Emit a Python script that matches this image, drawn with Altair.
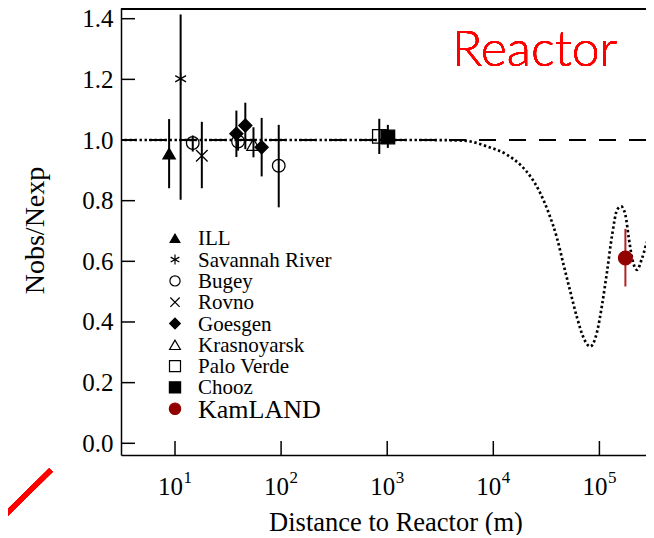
import altair as alt
import pandas as pd

# ---------------- data ----------------
exp_names = ["ILL", "Savannah River", "Bugey", "Rovno", "Goesgen", "Bugey",
             "Goesgen", "Krasnoyarsk", "Goesgen", "Bugey", "Palo Verde",
             "Chooz", "KamLAND"]
exp_dist = [8.8, 11.3, 14.7, 17.9, 37.9, 39.3, 46.0, 54.9, 65.6, 95.0,
            842.0, 1014.0, 175800.0]
exp_ratio = [0.955, 1.202, 0.990, 0.948, 1.021, 0.995, 1.048, 0.985, 0.976,
             0.915, 1.012, 1.010, 0.611]
exp_lo = [0.841, 0.803, 0.962, 0.841, 0.944, 0.965, 0.970, 0.943, 0.880,
          0.778, 0.954, 0.974, 0.517]
exp_hi = [1.069, 1.414, 1.015, 1.060, 1.097, 1.025, 1.123, 1.042, 1.073,
          1.050, 1.070, 1.050, 0.707]

curve_dist = [3.0, 10.0, 100.0, 1000.0, 2500.0, 5250.0, 8700.0, 13500.0,
              18000.0, 22400.0, 27700.0, 33300.0, 39800.0, 46000.0, 53200.0,
              61700.0, 71100.0, 77600.0, 82200.0, 87100.0, 95100.0, 105900.0,
              118000.0, 131800.0, 146900.0, 160300.0, 175800.0, 189200.0,
              203200.0, 226500.0, 252900.0, 291700.0, 321400.0, 360000.0]
curve_ratio = [1.0, 1.0, 1.0, 1.0, 1.0, 0.998, 0.979, 0.951, 0.918, 0.880,
               0.825, 0.759, 0.677, 0.588, 0.500, 0.413, 0.347, 0.324, 0.319,
               0.328, 0.368, 0.456, 0.566, 0.687, 0.770, 0.781, 0.753, 0.677,
               0.611, 0.572, 0.611, 0.671, 0.649, 0.600]

legend_names = ["ILL", "Savannah River", "Bugey", "Rovno", "Goesgen",
                "Krasnoyarsk", "Palo Verde", "Chooz", "KamLAND"]

y_ticks = [0.0, 0.2, 0.4, 0.6, 0.8, 1.0, 1.2, 1.4]
x_decades = [10, 100, 1000, 10000, 100000]
x_exponents = ["1", "2", "3", "4", "5"]

# ---------------- styles ----------------
W, H = 525, 447
FONT = "Liberation Serif"
DARKRED = "#930000"
ASTERISK = "M0,-1L0,1M-0.87,-0.5L0.87,0.5M-0.87,0.5L0.87,-0.5"
XMARK = "M-0.9,-0.9L0.9,0.9M-0.9,0.9L0.9,-0.9"
shape_range = ["triangle-up", ASTERISK, "circle", XMARK, "diamond",
               "triangle-up", "square", "square", "circle"]
fill_range = ["black", "transparent", "transparent", "transparent", "black",
              "transparent", "transparent", "black", DARKRED]
stroke_range = ["black"] * 8 + [DARKRED]
err_range = ["black"] * 8 + ["#b02424"]
size_range = [150, 190, 140, 140, 165, 130, 100, 144, 361]
leg_size_range = [95, 130, 80, 80, 95, 80, 70, 80, 200]

shape_sc = alt.Scale(domain=legend_names, range=shape_range)
fill_sc = alt.Scale(domain=legend_names, range=fill_range)
stroke_sc = alt.Scale(domain=legend_names, range=stroke_range)

xsc = alt.Scale(type="log", domain=[3.098, 274900], nice=False)
ysc = alt.Scale(domain=[-0.0386, 1.4353], nice=False, zero=False)

exp_df = pd.DataFrame({"name": exp_names, "dist": exp_dist, "ratio": exp_ratio,
                       "lo": exp_lo, "hi": exp_hi})
curve_df = pd.DataFrame({"dist": curve_dist, "ratio": curve_ratio})
leg_df = pd.DataFrame({"name": legend_names, "idx": list(range(len(legend_names)))})
ytick_df = pd.DataFrame({"v": y_ticks})
xtick_df = pd.DataFrame({"d": x_decades, "e": x_exponents})

axis_style = dict(labelFont=FONT, titleFont=FONT, labelFontSize=25,
                  titleFontWeight="normal", labelColor="black", titleColor="black",
                  domainColor="black", domainWidth=1.5, grid=False, ticks=False,
                  tickSize=0)

x_axis = alt.Axis(values=x_decades, labelExpr="'10'", labelOffset=-5,
                  labelBaseline="alphabetic", labelPadding=39,
                  title="Distance to Reactor (m)", titleFontSize=26.5,
                  titleX=274.5, titleY=75,
                  titleAlign="center", titleBaseline="alphabetic", **axis_style)
y_axis = alt.Axis(values=y_ticks, format=".1f", labelPadding=8,
                  title="Nobs/Nexp", titleFontSize=28, titleX=-78, titleY=222,
                  titleAngle=270, titleAlign="center", titleBaseline="alphabetic",
                  **axis_style)

base_x = alt.X("dist:Q", scale=xsc, axis=x_axis)

dashed = alt.Chart(curve_df).mark_rule(
    color="black", strokeWidth=1.5, strokeDash=[17, 13]
).encode(y=alt.datum(1.0, scale=ysc))

curve = alt.Chart(curve_df).mark_line(
    color="black", strokeWidth=2.7, strokeDash=[2.4, 2.6], strokeCap="butt",
    interpolate="monotone", clip=True
).encode(x=base_x, y=alt.Y("ratio:Q", scale=ysc, axis=y_axis))

errs = alt.Chart(exp_df).mark_rule(strokeWidth=2).encode(
    x=alt.X("dist:Q", scale=xsc),
    y=alt.Y("lo:Q", scale=ysc),
    y2="hi:Q",
    color=alt.Color("name:N", scale=alt.Scale(domain=legend_names, range=err_range), legend=None),
)

points = alt.Chart(exp_df).mark_point(filled=False, opacity=1, strokeWidth=1.3).encode(
    x=alt.X("dist:Q", scale=xsc),
    y=alt.Y("ratio:Q", scale=ysc),
    shape=alt.Shape("name:N", scale=shape_sc, legend=None),
    fill=alt.Fill("name:N", scale=fill_sc, legend=None),
    stroke=alt.Stroke("name:N", scale=stroke_sc, legend=None),
    size=alt.Size("name:N", scale=alt.Scale(domain=legend_names, range=size_range), legend=None),
)

# inward ticks
yticks = alt.Chart(ytick_df).mark_rule(color="black", strokeWidth=1.5).encode(
    y=alt.Y("v:Q", scale=ysc), x=alt.value(0), x2=alt.value(14))
xticks = alt.Chart(xtick_df).mark_rule(color="black", strokeWidth=1.5).encode(
    x=alt.X("d:Q", scale=xsc), y=alt.value(H), y2=alt.value(H - 14))
exps = alt.Chart(xtick_df).mark_text(
    align="left", baseline="alphabetic", dx=8.5, font=FONT, fontSize=17, color="black"
).encode(x=alt.X("d:Q", scale=xsc), y=alt.value(H + 28.3), text="e:N")

top_line = alt.Chart(ytick_df).mark_rule(color="black", strokeWidth=1.5).encode(
    x=alt.value(0), x2=alt.value(W), y=alt.value(0.75))

# legend
leg_base = alt.Chart(leg_df).transform_calculate(py="230.3 + 21.3 * datum.idx")
leg_pts = leg_base.mark_point(filled=False, opacity=1, strokeWidth=1.2).encode(
    x=alt.value(54),
    y=alt.Y("py:Q", scale=None),
    shape=alt.Shape("name:N", scale=shape_sc, legend=None),
    fill=alt.Fill("name:N", scale=fill_sc, legend=None),
    stroke=alt.Stroke("name:N", scale=stroke_sc, legend=None),
    size=alt.Size("name:N", scale=alt.Scale(domain=legend_names, range=leg_size_range), legend=None),
)
leg_txt = leg_base.transform_filter("datum.idx < 8").transform_calculate(
    ty="datum.py + 7").mark_text(
    align="left", baseline="alphabetic", font=FONT, fontSize=21, color="black"
).encode(x=alt.value(77), y=alt.Y("ty:Q", scale=None), text="name:N")
leg_txt2 = leg_base.transform_filter("datum.idx == 8").transform_calculate(
    ty="datum.py + 9").mark_text(
    align="left", baseline="alphabetic", font=FONT, fontSize=26, color="black"
).encode(x=alt.value(77), y=alt.Y("ty:Q", scale=None), text="name:N")

reactor = alt.Chart(ytick_df).mark_text(
    text="Reactor", align="left", baseline="alphabetic", font="Lato",
    fontSize=50, fontWeight=300, color="#ff0000"
).encode(x=alt.value(331), y=alt.value(58))

slash = alt.Chart(ytick_df).mark_rule(color="#ff0000", strokeWidth=5, strokeCap="butt").encode(
    x=alt.value(-124), x2=alt.value(-70), y=alt.value(H + 68), y2=alt.value(H + 15))

chart = alt.layer(
    dashed, curve, errs, points, yticks, xticks, exps, top_line,
    leg_pts, leg_txt, leg_txt2, reactor, slash
).resolve_scale(size="independent").properties(
    width=W, height=H,
    autosize=alt.AutoSizeParams(type="none"),
    padding={"left": 113, "top": 0, "right": 0, "bottom": 80},
).configure_view(stroke=None)

chart.save("out.html", embed_options={"renderer": "svg", "actions": False})
